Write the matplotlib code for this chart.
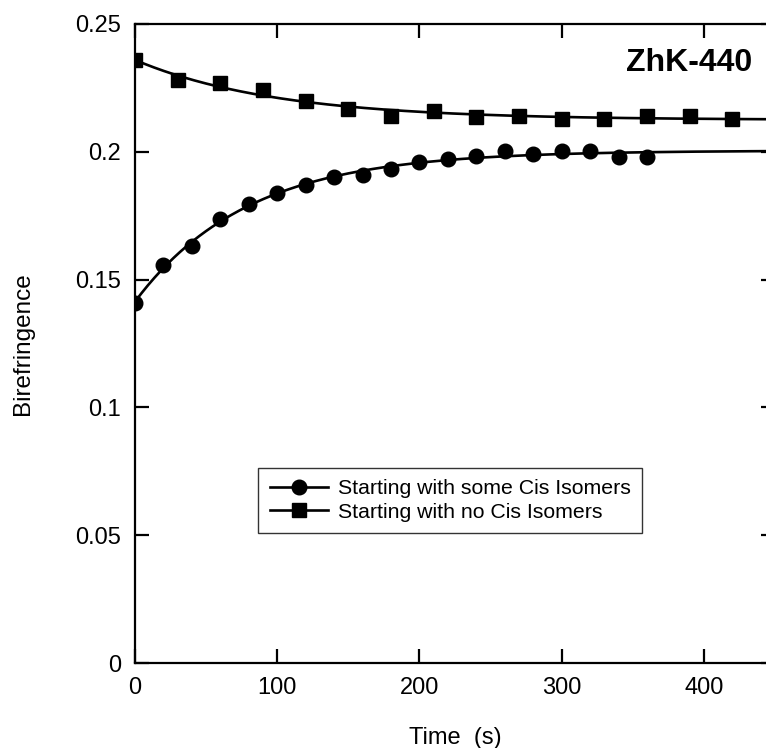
import numpy as np
import matplotlib
matplotlib.use("Agg")
import matplotlib.pyplot as plt

plt.rcParams['font.family'] = ['Liberation Sans', 'DejaVu Sans']

# Data
t_cis = [0, 20, 40, 60, 80, 100, 120, 140, 160, 180, 200, 220, 240, 260, 280, 300, 320, 340, 360]
b_cis = [0.1409, 0.1559, 0.1630, 0.1736, 0.1797, 0.1840, 0.1870, 0.1901, 0.1911, 0.1931, 0.1961,
         0.1970, 0.1983, 0.2003, 0.1992, 0.2003, 0.2003, 0.1980, 0.1980]
t_nocis = [0, 30, 60, 90, 120, 150, 180, 210, 240, 270, 300, 330, 360, 390, 420]
b_nocis = [0.2361, 0.2279, 0.2270, 0.2241, 0.2200, 0.2169, 0.2139, 0.2159, 0.2135, 0.2139,
           0.2130, 0.2130, 0.2142, 0.2142, 0.2130]

label_cis = "Starting with some Cis Isomers"
label_nocis = "Starting with no Cis Isomers"
title_text = "ZhK-440"
xticks = [0, 100, 200, 300, 400]
yticks = [0, 0.05, 0.1, 0.15, 0.2, 0.25]
ytick_labels = ["0", "0.05", "0.1", "0.15", "0.2", "0.25"]


def fit_exp(t, y):
    """Least-squares fit of y = a + b*exp(-t/tau), grid over tau."""
    t = np.asarray(t, float)
    y = np.asarray(y, float)
    best = None
    for tau in np.linspace(5, 300, 600):
        A = np.column_stack([np.ones_like(t), np.exp(-t / tau)])
        coef, *_ = np.linalg.lstsq(A, y, rcond=None)
        r = np.sum((A @ coef - y) ** 2)
        if best is None or r < best[0]:
            best = (r, coef, tau)
    _, (a, b), tau = best
    return lambda x: a + b * np.exp(-x / tau)


fig = plt.figure(figsize=(7.66, 7.48), dpi=100)
ax = fig.add_axes([135 / 766, 85 / 748, 640 / 766, 639 / 748])

tt = np.linspace(0, 450, 400)
f_cis = fit_exp(t_cis, b_cis)
f_nocis = fit_exp(t_nocis, b_nocis)
ax.plot(tt, f_cis(tt), color='black', lw=1.9, zorder=2)
ax.plot(tt, f_nocis(tt), color='black', lw=1.9, zorder=2)
ax.plot(t_cis, b_cis, 'o', color='black', ms=10.5, zorder=3)
ax.plot(t_nocis, b_nocis, 's', color='black', ms=10, zorder=3)

# legend proxies
h1, = ax.plot([], [], '-o', color='black', lw=1.9, ms=10.5, label=label_cis)
h2, = ax.plot([], [], '-s', color='black', lw=1.9, ms=10, label=label_nocis)
leg = ax.legend(handles=[h1, h2], loc='lower left', bbox_to_anchor=(0.192, 0.203),
                borderaxespad=0, fontsize=15.3, frameon=True, fancybox=False,
                handlelength=2.75, handletextpad=0.45, borderpad=0.55, labelspacing=0.2)
leg.get_frame().set_edgecolor('black')
leg.get_frame().set_linewidth(1.0)

ax.text(434, 0.2347, title_text, ha='right', va='center', fontsize=23, fontweight='bold')

ax.set_xlim(0, 450)
ax.set_ylim(0, 0.25)
ax.set_xticks(xticks)
ax.set_yticks(yticks)
ax.set_yticklabels(ytick_labels)
ax.tick_params(direction='in', length=10, width=1.6, top=True, right=True,
               labelsize=17, pad=10)
for s in ax.spines.values():
    s.set_linewidth(1.6)

ax.set_xlabel("Time  (s)", fontsize=17, labelpad=20)
ax.set_ylabel("Birefringence", fontsize=17.5, labelpad=30)

fig.savefig("out.png", dpi=100)
